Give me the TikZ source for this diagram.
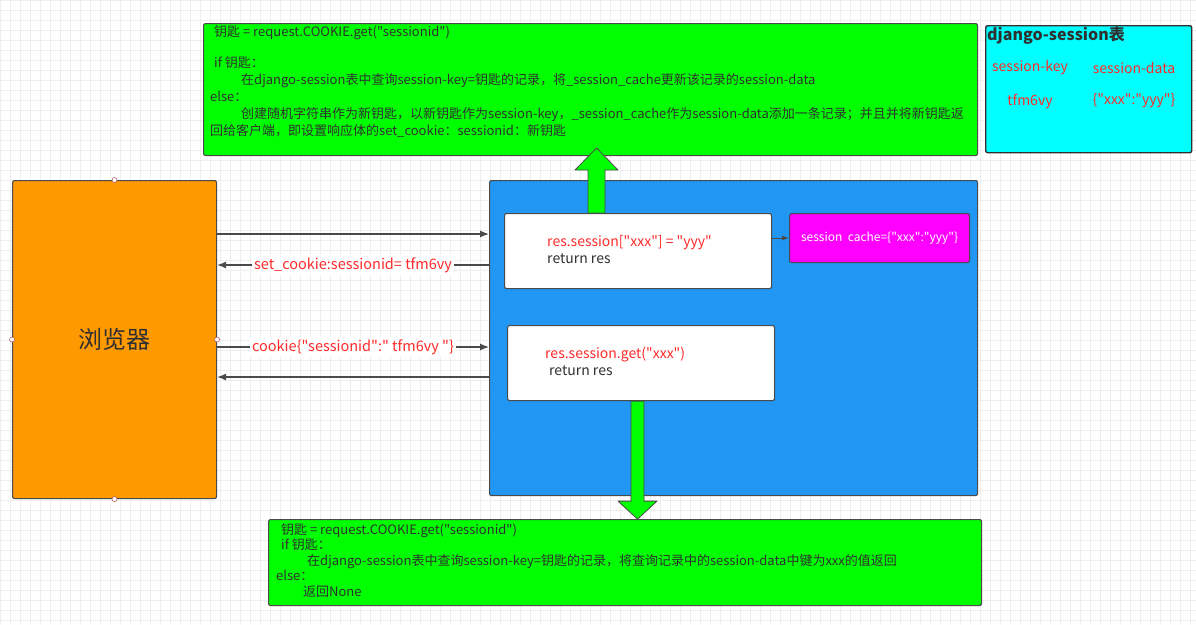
\documentclass[tikz,border=0pt]{standalone}
\usepackage{fontspec}
\setmainfont{Noto Sans CJK SC}[Ligatures=TeXOff]
\usetikzlibrary{arrows.meta,calc}
\definecolor{fgreen}{HTML}{00FF00}
\definecolor{tblcyan}{HTML}{00FFFF}
\definecolor{webor}{HTML}{FF9900}
\definecolor{viewblue}{HTML}{2196F3}
\definecolor{cachemag}{HTML}{FF00FF}
\definecolor{redink}{HTML}{FF2A2A}
\definecolor{inkcol}{HTML}{303030}
\definecolor{edgecol}{HTML}{4A4A4A}
\definecolor{gridcol}{HTML}{EEEEEE}
\begin{document}
\begin{tikzpicture}[x=1pt,y=-1pt,line cap=round,line join=round,
  >={Latex[length=9pt,width=7pt]},
  box/.style={draw=edgecol,line width=1.1pt,rounded corners=2pt,anchor=north west,inner sep=0pt},
  codetext/.style={anchor=north west,align=left,inner sep=0pt,text=inkcol,font=\fontsize{13}{17}\selectfont},
  flow/.style={draw=edgecol,line width=1.2pt,->},
  tag/.style={text=redink,fill=white,inner sep=2pt,font=\fontsize{14.5}{16}\selectfont},
  fat/.style={draw=edgecol,fill=fgreen,line width=0.8pt},
  handle/.style={circle,draw=red!40!gray,fill=white,inner sep=0pt,minimum size=5pt,line width=0.5pt}]
\useasboundingbox (0,0) rectangle (1196,624);
\draw[gridcol,line width=0.5pt,step=10pt] (0,0) grid (1196,624);

% boxes
\node[box,fill=fgreen,minimum width=774,minimum height=132] (getkey) at (203,23) {};
\node[box,fill=tblcyan,minimum width=206,minimum height=127,line width=1.4pt,draw=inkcol] (table) at (985,25) {};
\node[box,fill=webor,minimum width=204,minimum height=318,font=\fontsize{24}{24}\selectfont,text=inkcol] (browser) at (12,180) {浏览器};
\node[box,fill=viewblue,minimum width=488,minimum height=315] (view) at (489,180) {};
\node[box,fill=white,minimum width=267,minimum height=75] (setval) at (504,213) {};
\node[box,fill=white,minimum width=267,minimum height=75] (getval) at (507,325) {};
\node[box,fill=cachemag,minimum width=180,minimum height=49,text=white,font=\fontsize{12}{14}\selectfont] (cache) at (789,213) {session\ \ cache=\{"xxx":"yyy"\}};
\node[box,fill=fgreen,minimum width=713,minimum height=86] (lookup) at (268,519) {};

\foreach \side in {north,south,east,west}
  \node[handle] (h\side) at (browser.\side) {};

% texts
\node[codetext] (getcode) at (210,25) {\hspace{4pt}钥匙 = request.COOKIE.get("sessionid")\\[14pt]
\hspace{4pt}if 钥匙：\\
\hspace{31pt}在django-session表中查询session-key=钥匙的记录，将\_session\_cache更新该记录的session-data\\
else：\\
\hspace{31pt}创建随机字符串作为新钥匙，以新钥匙作为session-key，\_session\_cache作为session-data添加一条记录；并且并将新钥匙返\\
回给客户端，即设置响应体的set\_cookie：sessionid：新钥匙};

\node[codetext,font=\fontsize{13}{15.5}\selectfont] (lookupcode) at (276,523) {\hspace{5pt}钥匙 = request.COOKIE.get("sessionid")\\
\hspace{5pt}if 钥匙：\\
\hspace{31pt}在django-session表中查询session-key=钥匙的记录，将查询记录中的session-data中键为xxx的值返回\\
else：\\
\hspace{27pt}返回None};

\node[codetext,font=\fontsize{14}{17}\selectfont] (setcode) at (547,235) {\textcolor{redink}{res.session["xxx"] = "yyy"}\\return res};
\node[codetext,font=\fontsize{14}{17}\selectfont] (getcode2) at (545,347) {\textcolor{redink}{res.session.get("xxx")}\\\hspace{4pt}return res};

\node[anchor=west,inner sep=0pt,text=inkcol,font=\bfseries\fontsize{16}{18}\selectfont] (tbltitle) at (987,36) {django-session表};
\node[text=redink,font=\fontsize{14}{16}\selectfont] (keyhead) at (1030,68) {session-key};
\node[text=redink,font=\fontsize{14}{16}\selectfont] (datahead) at (1134,68) {session-data};
\node[text=redink,font=\fontsize{14}{16}\selectfont] (keyval) at (1030,101) {tfm6vy};
\node[text=redink,font=\fontsize{14}{16}\selectfont] (dataval) at (1134,101) {\{"xxx":"yyy"\}};

% connectors
\draw[flow] ([yshift=-54pt]browser.north east) -- ([yshift=-54pt]view.north west);
\draw[flow] ([yshift=-85pt]view.north west) -- node[tag] (setcookie) {set\_cookie:sessionid= tfm6vy} ([yshift=-85pt]browser.north east);
\draw[flow] ([yshift=-167pt]browser.north east) -- node[tag] (sendcookie) {cookie\{"sessionid":" tfm6vy "\}} ([yshift=-167pt]view.north west);
\draw[flow] ([yshift=-197pt]view.north west) -- ([yshift=-197pt]browser.north east);
\draw[flow,line width=1pt,>={Latex[length=7pt,width=5pt]}] (setval.east |- cache.west) -- (cache.west);

\draw[fat] (setval.north west) ++(84,0) -- ++(0,-43) -- ++(-13,0) -- ++(21.5,-22) -- ++(21.5,22) -- ++(-13,0) -- ++(0,43) -- cycle;
\draw[fat] (getval.south west) ++(124,0) -- ++(0,100) -- ++(-13,0) -- ++(19.5,18) -- ++(19.5,-18) -- ++(-13,0) -- ++(0,-100) -- cycle;
\end{tikzpicture}
\end{document}
